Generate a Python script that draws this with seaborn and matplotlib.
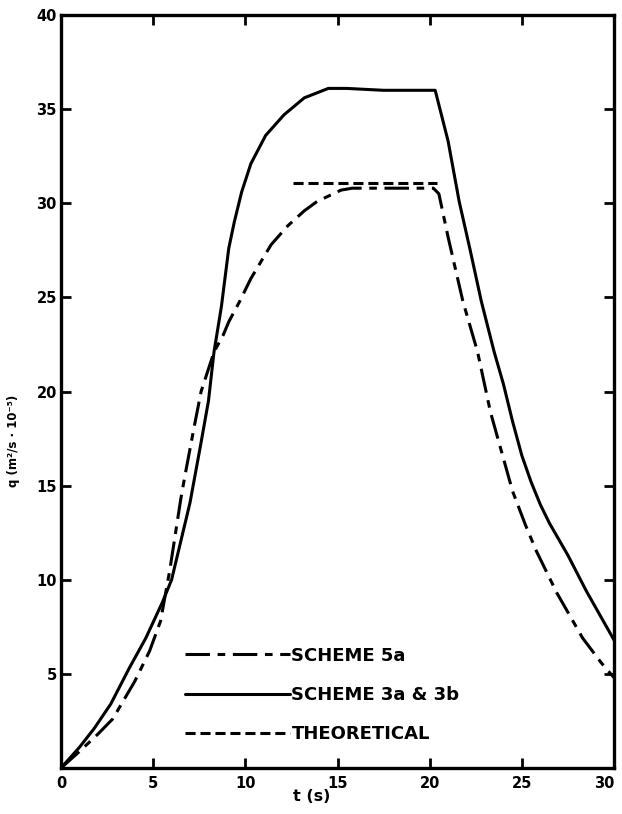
import matplotlib
matplotlib.use("Agg")
import matplotlib.pyplot as plt
import seaborn as sns
import pandas as pd
from matplotlib.lines import Line2D

# ---- data ----
t_5a = [0, 0.97, 2.0, 2.8, 4.0, 4.8, 5.4, 5.9, 6.5, 6.7, 7.2, 7.6, 8.3, 8.8, 9.1, 9.7,
        10.3, 11.4, 12.3, 13.2, 13.9, 15.2, 15.8, 20.2, 20.5, 21.0, 21.8, 22.6, 23.3,
        24.5, 25.2, 25.8, 26.9, 28.3, 29.3, 30.0]
q_5a = [0, 0.85, 1.8, 2.6, 4.6, 6.2, 7.8, 10.5, 14.3, 15.4, 18.0, 20.0, 22.1, 23.0, 23.7, 24.8,
        26.0, 27.8, 28.8, 29.6, 30.1, 30.7, 30.8, 30.8, 30.5, 28.2, 24.8, 22.1, 18.9,
        14.7, 12.9, 11.5, 9.3, 6.9, 5.6, 4.8]

t_3ab = [0, 1.0, 1.8, 2.7, 3.7, 4.6, 5.5, 6.0, 7.0, 7.6, 8.0, 8.3, 8.7, 9.1, 9.4, 9.8, 10.3,
         11.1, 12.1, 13.2, 14.5, 15.5, 17.5, 20.3, 21.0, 21.6, 22.2, 22.8, 23.5, 24.0,
         24.5, 25.0, 25.5, 26.0, 26.5, 27.5, 28.5, 30.0]
q_3ab = [0, 1.1, 2.1, 3.4, 5.3, 6.9, 8.8, 10.0, 14.1, 17.3, 19.5, 22.1, 24.5, 27.6, 29.0, 30.6, 32.1,
         33.6, 34.7, 35.6, 36.1, 36.1, 36.0, 36.0, 33.3, 30.1, 27.5, 24.8, 22.1, 20.4,
         18.4, 16.6, 15.2, 14.0, 13.0, 11.3, 9.4, 6.8]

t_theory = [12.6, 20.4]
q_theory = [31.1, 31.1]

series_names = ["SCHEME 5a", "SCHEME 3a & 3b", "THEORETICAL"]
x_ticks = [0, 5, 10, 15, 20, 25, 30]
y_ticks = [5, 10, 15, 20, 25, 30, 35, 40]

df = pd.concat([
    pd.DataFrame({"t": t_5a, "q": q_5a, "series": series_names[0]}),
    pd.DataFrame({"t": t_3ab, "q": q_3ab, "series": series_names[1]}),
    pd.DataFrame({"t": t_theory, "q": q_theory, "series": series_names[2]}),
], ignore_index=True)

sns.set_theme(style="ticks")
plt.rcParams['font.family'] = ['DejaVu Sans']
plt.rcParams['text.color'] = 'black'

LW = 2.2
dash_map = {series_names[0]: (8, 2.5, 2.5, 2.5),
            series_names[1]: "",
            series_names[2]: (3.3, 1.6)}

fig = plt.figure(figsize=(6.22, 8.14), dpi=100)
L, R, T, B = 61, 614, 15, 768
ax = fig.add_axes([L / 622, 1 - B / 814, (R - L) / 622, (B - T) / 814])

sns.lineplot(data=df, x="t", y="q", hue="series", style="series",
             hue_order=series_names, style_order=series_names,
             palette={n: "black" for n in series_names}, dashes=dash_map,
             estimator=None, sort=False, lw=LW, legend=False, ax=ax)

ax.set_xlim(0, 30)
ax.set_ylim(0, 40)
ax.set_xticks(x_ticks)
ax.set_yticks(y_ticks)
ax.tick_params(direction='in', length=7, width=2.0, top=True, right=True,
               labelsize=10.5, colors='black')
ax.tick_params(axis='x', pad=6)
ax.tick_params(axis='y', pad=3)
for lbl in ax.get_xticklabels() + ax.get_yticklabels():
    lbl.set_fontweight('bold')
ax.get_xticklabels()[-1].set_ha('right')
for sp in ax.spines.values():
    sp.set_visible(True)
    sp.set_linewidth(2.4)
    sp.set_color('black')

ax.set_xlabel("t (s)", fontsize=11.5, fontweight='bold', color='black')
ax.set_ylabel("q (m²/s · 10⁻⁵)", fontsize=8.5, fontweight='bold', color='black')
ax.xaxis.set_label_coords(0.454, -0.028)
ax.yaxis.set_label_coords(-0.075, 0.435)

handles = [
    Line2D([0], [0], color='black', lw=LW, dashes=dash_map[series_names[0]]),
    Line2D([0], [0], color='black', lw=LW, linestyle='-'),
    Line2D([0], [0], color='black', lw=LW, dashes=dash_map[series_names[2]]),
]
leg = ax.legend(handles, series_names, loc='lower left', bbox_to_anchor=(0.224, 0.033),
                frameon=False, borderpad=0, borderaxespad=0, handlelength=5.8,
                handletextpad=0.1, labelspacing=1.18,
                prop={'weight': 'bold', 'size': 13})
for txt in leg.get_texts():
    txt.set_color('black')

fig.savefig("out.png", dpi=100, facecolor='white')
